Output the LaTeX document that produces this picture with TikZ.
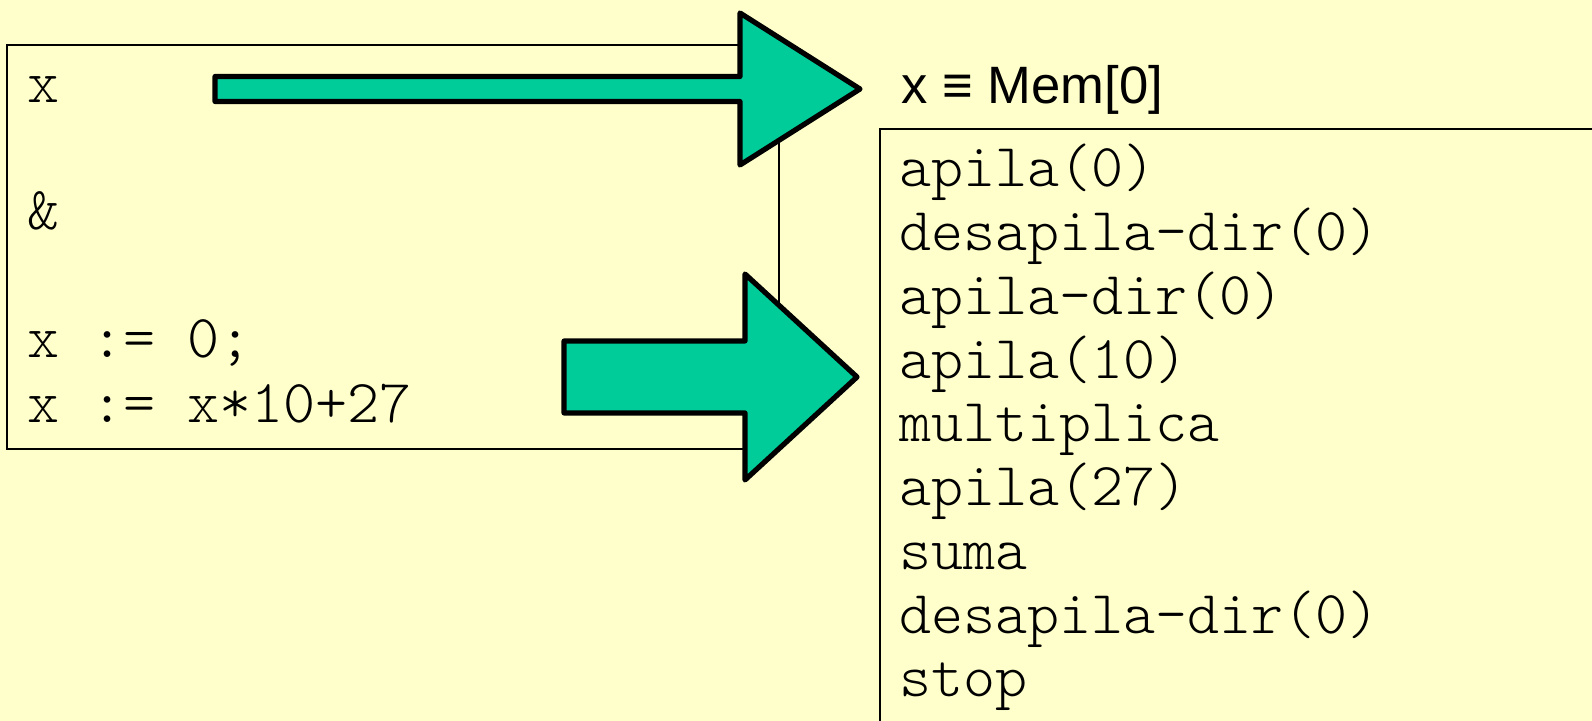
\documentclass[tikz,border=0pt]{standalone}
\usepackage{fontspec}
\newfontfamily\codefont{lmmonolt10-regular.otf}
\newfontfamily\labelfont{Liberation Sans}
\definecolor{paper}{HTML}{FFFFCC}
\definecolor{arrowfill}{HTML}{00CC99}
\tikzset{
  frame/.style={draw=black, line width=1pt},
  code/.style={anchor=base west, inner sep=0pt,
    font=\codefont\fontsize{30.5}{32}\selectfont},
  blockarrow/.style={draw=black, fill=arrowfill, line width=2.6pt,
    line join=round},
}
\begin{document}
\begin{tikzpicture}[x=0.5pt, y=-0.5pt]
  % page area and background
  \fill[paper] (0,0) rectangle (1592,721);
  \useasboundingbox (0,0) rectangle (1592,721);

  % source program box
  \draw[frame] (7,45) rectangle (779,449);
  \node[code] (src1) at (27,103) {x};
  \node[code] (src2) at (27,230) {\&};
  \node[code] (src3) at (27,358) {x := 0;};
  \node[code] (src4) at (27,423) {x := x*10+27};

  % memory assignment label
  \node[anchor=base west, inner sep=0pt,
        font=\labelfont\fontsize{26.3}{31}\selectfont] (mem) at (901,104)
        {x ≡ Mem[0]};

  % generated code box (open to the right and bottom)
  \draw[frame] (880,721) -- (880,129) -- (1592,129);
  \foreach \t [count=\i] in {apila(0), desapila-dir(0), apila-dir(0),
      apila(10), multiplica, apila(27), suma, desapila-dir(0), stop}
    \node[code, name=obj\i] at (899, {187+63.75*(\i-1)}) {\t};

  % translation arrows
  \draw[blockarrow] (215,76.5) -- (740,76.5) -- (740,13) -- (860,89)
    -- (740,165) -- (740,101.5) -- (215,101.5) -- cycle;
  \draw[blockarrow] (564,341) -- (745,341) -- (745,274) -- (857,377)
    -- (745,480) -- (745,413) -- (564,413) -- cycle;
\end{tikzpicture}
\end{document}
